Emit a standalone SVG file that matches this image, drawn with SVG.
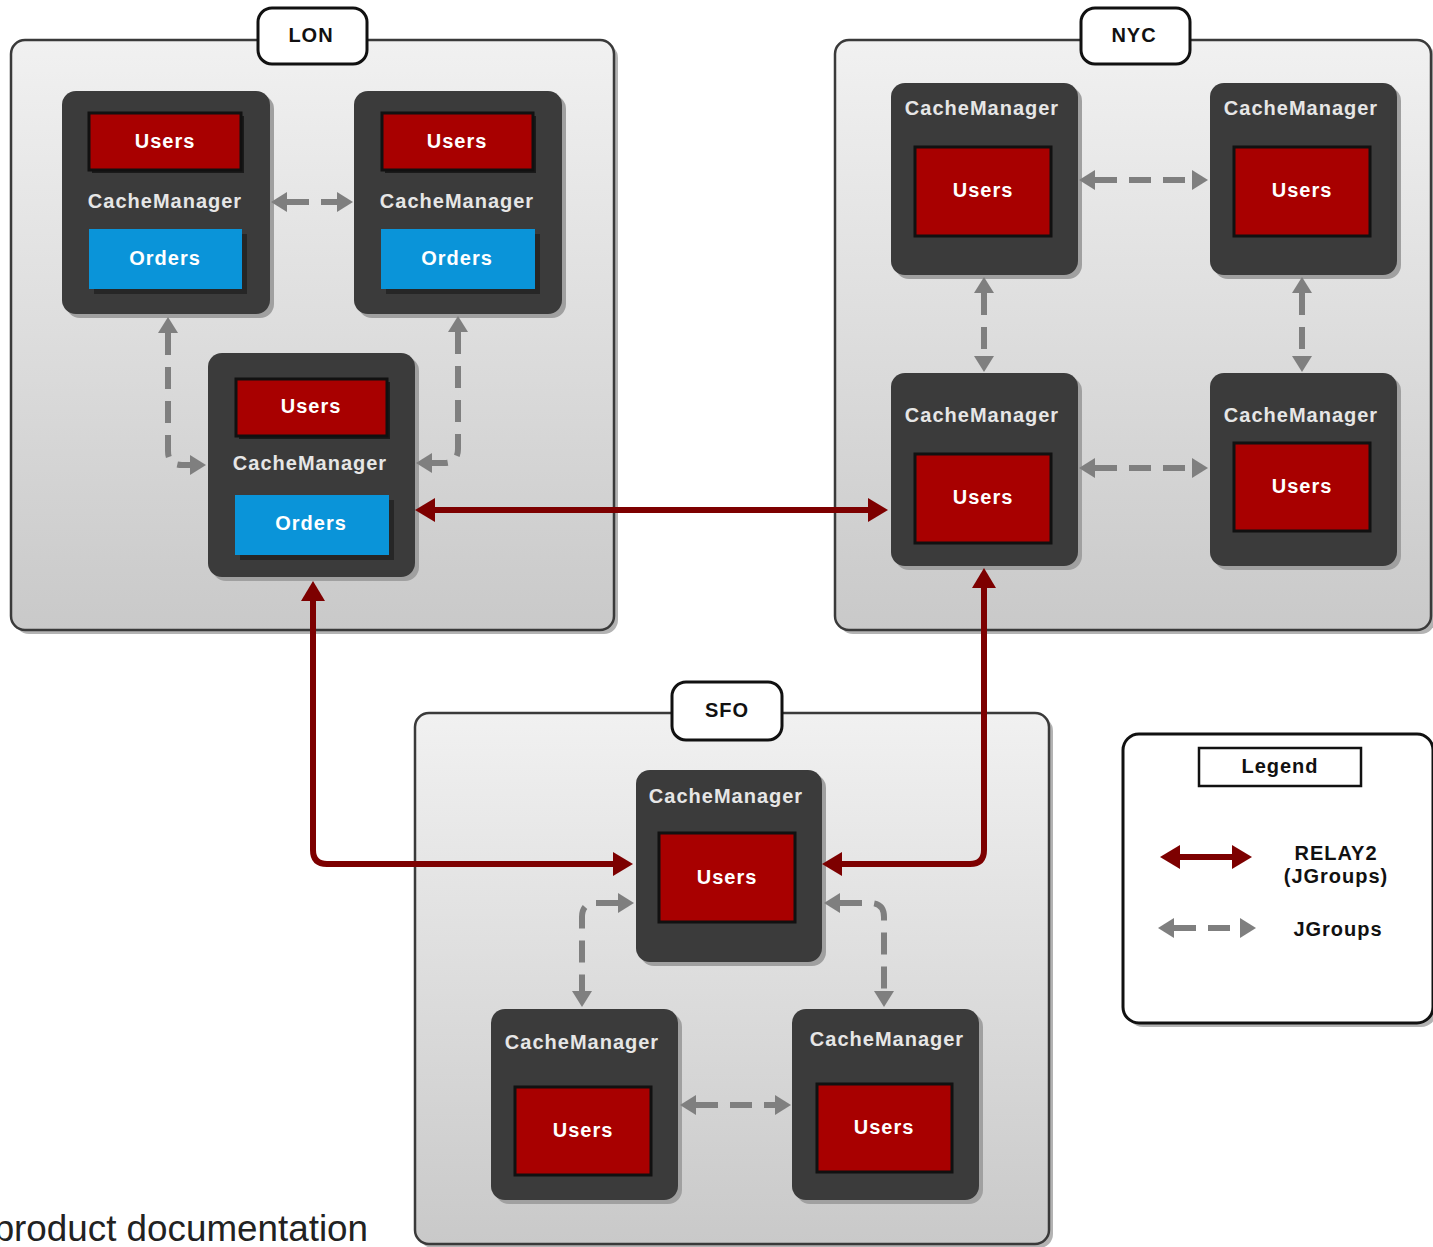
<svg xmlns="http://www.w3.org/2000/svg" width="1433" height="1247" viewBox="0 0 1433 1247">
<defs>
<linearGradient id="cg" x1="0" y1="0" x2="0" y2="1">
<stop offset="0" stop-color="#f1f1f1"/>
<stop offset="1" stop-color="#c9c9c9"/>
</linearGradient>
<marker id="ga" markerUnits="userSpaceOnUse" markerWidth="16" markerHeight="20" refX="0" refY="10" orient="auto-start-reverse" overflow="visible">
<path d="M0,0 L16,10 L0,20 z" fill="#7f7f7f"/>
</marker>
<marker id="ra" markerUnits="userSpaceOnUse" markerWidth="20" markerHeight="24" refX="0" refY="12" orient="auto-start-reverse" overflow="visible">
<path d="M0,0 L20,12 L0,24 z" fill="#7d0000"/>
</marker>
</defs>
<style>
.cont{fill:url(#cg);stroke:#3a3a3a;stroke-width:2.5}
.csh{fill:#b3b3b3}
.lbl{fill:#fff;stroke:#111;stroke-width:3}
.node{fill:#3b3b3b}
.nsh{fill:#a0a0a0}
.users{fill:#a80000;stroke:#111;stroke-width:3}
.ush{fill:#1a1a1a}
.orders{fill:#0a94d9}
.osh{fill:#262626}
.t{font-family:"Liberation Sans",Arial,sans-serif;font-weight:bold;font-size:20px;letter-spacing:1px;text-anchor:middle;dominant-baseline:central}
.w{fill:#fff}
.cm{fill:#e6e6e6}
.k{fill:#111}
.g{fill:none;stroke:#7f7f7f;stroke-width:6;stroke-dasharray:22 12;marker-start:url(#ga);marker-end:url(#ga)}
.r{fill:none;stroke:#7d0000;stroke-width:6;marker-start:url(#ra);marker-end:url(#ra)}
.doc{font-family:"Liberation Sans",Arial,sans-serif;font-size:36.8px;fill:#222;text-anchor:end}
</style>

<!-- Containers -->
<g id="lon">
<rect class="csh" x="15" y="44" width="603" height="590" rx="14"/>
<rect class="cont" x="11" y="40" width="603" height="590" rx="14"/>
<rect class="lbl" x="258" y="8" width="109" height="56" rx="14"/>
<text class="t k" x="311" y="35">LON</text>
</g>
<g id="nyc">
<rect class="csh" x="839" y="44" width="596" height="590" rx="14"/>
<rect class="cont" x="835" y="40" width="596" height="590" rx="14"/>
<rect class="lbl" x="1081" y="8" width="109" height="56" rx="14"/>
<text class="t k" x="1134" y="35">NYC</text>
</g>
<g id="sfo">
<rect class="csh" x="419" y="717" width="634" height="531" rx="14"/>
<rect class="cont" x="415" y="713" width="634" height="531" rx="14"/>
<rect class="lbl" x="672" y="682" width="110" height="58" rx="14"/>
<text class="t k" x="727" y="710">SFO</text>
</g>

<!-- LON nodes -->
<g id="lon-a">
<rect class="nsh" x="66" y="95" width="208" height="223" rx="14"/>
<rect class="node" x="62" y="91" width="208" height="223" rx="14"/>
<rect class="ush" x="92" y="116" width="152" height="57"/>
<rect class="users" x="89" y="113" width="152" height="57"/>
<text class="t w" x="165" y="141">Users</text>
<text class="t cm" x="165" y="201">CacheManager</text>
<rect class="osh" x="94" y="234" width="153" height="60"/>
<rect class="orders" x="89" y="229" width="153" height="60"/>
<text class="t w" x="165" y="258">Orders</text>
</g>
<g id="lon-b">
<rect class="nsh" x="358" y="95" width="208" height="223" rx="14"/>
<rect class="node" x="354" y="91" width="208" height="223" rx="14"/>
<rect class="ush" x="385" y="116" width="151" height="57"/>
<rect class="users" x="382" y="113" width="151" height="57"/>
<text class="t w" x="457" y="141">Users</text>
<text class="t cm" x="457" y="201">CacheManager</text>
<rect class="osh" x="386" y="234" width="154" height="60"/>
<rect class="orders" x="381" y="229" width="154" height="60"/>
<text class="t w" x="457" y="258">Orders</text>
</g>
<g id="lon-c">
<rect class="nsh" x="212" y="357" width="207" height="224" rx="14"/>
<rect class="node" x="208" y="353" width="207" height="224" rx="14"/>
<rect class="ush" x="239" y="382" width="151" height="57"/>
<rect class="users" x="236" y="379" width="151" height="57"/>
<text class="t w" x="311" y="406">Users</text>
<text class="t cm" x="310" y="463">CacheManager</text>
<rect class="osh" x="240" y="500" width="154" height="60"/>
<rect class="orders" x="235" y="495" width="154" height="60"/>
<text class="t w" x="311" y="523">Orders</text>
</g>

<!-- NYC nodes -->
<g id="nyc-tl">
<rect class="nsh" x="895" y="87" width="187" height="192" rx="14"/>
<rect class="node" x="891" y="83" width="187" height="192" rx="14"/>
<text class="t cm" x="982" y="108">CacheManager</text>
<rect class="users" x="915" y="147" width="136" height="89"/>
<text class="t w" x="983" y="190">Users</text>
</g>
<g id="nyc-tr">
<rect class="nsh" x="1214" y="87" width="187" height="192" rx="14"/>
<rect class="node" x="1210" y="83" width="187" height="192" rx="14"/>
<text class="t cm" x="1301" y="108">CacheManager</text>
<rect class="users" x="1234" y="147" width="136" height="89"/>
<text class="t w" x="1302" y="190">Users</text>
</g>
<g id="nyc-bl">
<rect class="nsh" x="895" y="377" width="187" height="193" rx="14"/>
<rect class="node" x="891" y="373" width="187" height="193" rx="14"/>
<text class="t cm" x="982" y="415">CacheManager</text>
<rect class="users" x="915" y="454" width="136" height="89"/>
<text class="t w" x="983" y="497">Users</text>
</g>
<g id="nyc-br">
<rect class="nsh" x="1214" y="377" width="187" height="193" rx="14"/>
<rect class="node" x="1210" y="373" width="187" height="193" rx="14"/>
<text class="t cm" x="1301" y="415">CacheManager</text>
<rect class="users" x="1234" y="443" width="136" height="88"/>
<text class="t w" x="1302" y="486">Users</text>
</g>

<!-- SFO nodes -->
<g id="sfo-top">
<rect class="nsh" x="640" y="774" width="186" height="192" rx="14"/>
<rect class="node" x="636" y="770" width="186" height="192" rx="14"/>
<text class="t cm" x="726" y="796">CacheManager</text>
<rect class="users" x="659" y="833" width="136" height="89"/>
<text class="t w" x="727" y="877">Users</text>
</g>
<g id="sfo-bl">
<rect class="nsh" x="495" y="1013" width="187" height="191" rx="14"/>
<rect class="node" x="491" y="1009" width="187" height="191" rx="14"/>
<text class="t cm" x="582" y="1042">CacheManager</text>
<rect class="users" x="515" y="1087" width="136" height="88"/>
<text class="t w" x="583" y="1130">Users</text>
</g>
<g id="sfo-br">
<rect class="nsh" x="796" y="1013" width="187" height="191" rx="14"/>
<rect class="node" x="792" y="1009" width="187" height="191" rx="14"/>
<text class="t cm" x="887" y="1039">CacheManager</text>
<rect class="users" x="817" y="1084" width="135" height="88"/>
<text class="t w" x="884" y="1127">Users</text>
</g>

<!-- Connectors -->
<g id="connectors">
<path class="g" d="M287,202 H337"/>
<path class="g" d="M168,333 V451 Q168,465 182,465 H190"/>
<path class="g" d="M458,332 V449 Q458,463 444,463 H432"/>
<path class="g" d="M1095,180 H1192"/>
<path class="g" d="M1095,468 H1192"/>
<path class="g" d="M984,293 V356"/>
<path class="g" d="M1302,293 V356"/>
<path class="g" d="M618,903 H596 Q582,903 582,917 V991"/>
<path class="g" d="M840,903 H870 Q884,903 884,917 V991"/>
<path class="g" d="M696,1105 H775"/>
<path class="r" d="M435,510 H868"/>
<path class="r" d="M313,601 V850 Q313,864 327,864 H613"/>
<path class="r" d="M984,588 V850 Q984,864 970,864 H842"/>
</g>

<!-- Legend -->
<g id="legend">
<rect x="1127" y="738" width="310" height="289" rx="16" fill="#b3b3b3"/>
<rect x="1123" y="734" width="310" height="289" rx="16" fill="#fff" stroke="#111" stroke-width="3"/>
<rect x="1199" y="748" width="162" height="38" fill="#fff" stroke="#111" stroke-width="2.5"/>
<text class="t k" x="1280" y="766">Legend</text>
<path class="r" d="M1180,857 H1232"/>
<text class="t k" x="1336" y="853">RELAY2</text>
<text class="t k" x="1336" y="876">(JGroups)</text>
<path class="g" d="M1174,928 H1240"/>
<text class="t k" x="1338" y="929">JGroups</text>
</g>

<text class="doc" x="368" y="1241">product documentation</text>
</svg>
